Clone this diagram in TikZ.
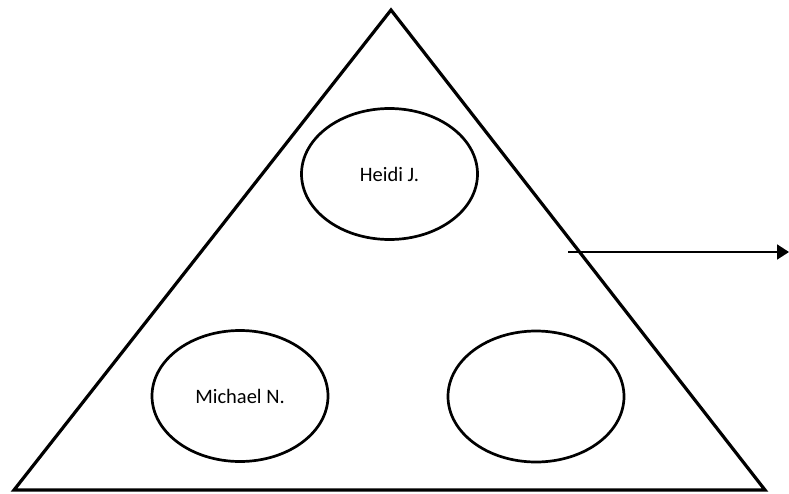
\documentclass[tikz,border=0pt]{standalone}
\usepackage{fontspec}
\setmainfont{Carlito}
\usetikzlibrary{shapes.geometric,arrows.meta}
\begin{document}
\begin{tikzpicture}[x=1pt,y=-1pt,
  tri/.style={draw=black,line width=3.2pt,line join=miter},
  oval/.style={ellipse,draw=black,line width=2.7pt,minimum width=176pt,minimum height=131pt,inner sep=0pt,font=\fontsize{20.5}{24}\selectfont},
  link/.style={draw=black,line width=1.8pt,-{Triangle[length=12pt,width=15pt]}}]
\useasboundingbox (0,0) rectangle (789,493);
\coordinate (apex) at (391,10);
\coordinate (bl) at (14,490);
\coordinate (br) at (765,490);
\draw[tri] (apex) -- (br) -- (bl) -- cycle;
\node[oval] (heidi) at (389.5,174) {Heidi J.};
\node[oval] (michael) at (240,396) {Michael N.};
\node[oval] (empty) at (536,396.5) {};
\coordinate (as) at (568,252);
\coordinate (ae) at (789,252);
\draw[link] (as) -- (ae);
\end{tikzpicture}
\end{document}
